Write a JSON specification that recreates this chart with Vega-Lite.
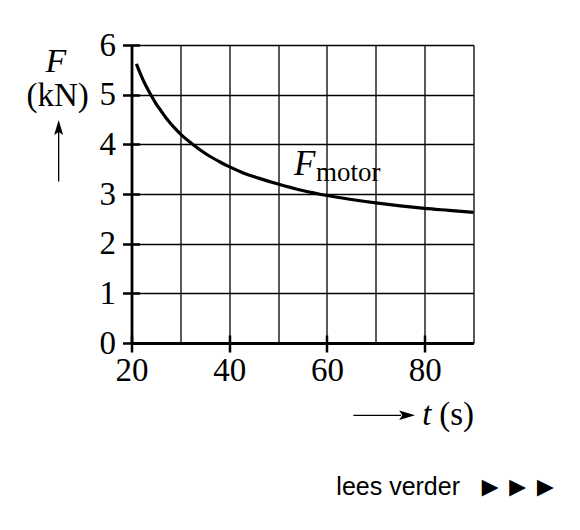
{
  "$schema": "https://vega.github.io/schema/vega-lite/v6.json",
  "width": 342,
  "height": 298,
  "autosize": {"type": "none"},
  "padding": {"left": 131.5, "top": 45, "right": 106.5, "bottom": 187},
  "background": "white",
  "config": {"view": {"stroke": null}, "font": "Liberation Serif"},
  "layer": [
    {
      "data": {"values": [
        {"t": 21, "F": 5.62}, {"t": 22, "F": 5.38}, {"t": 23, "F": 5.17}, {"t": 24, "F": 4.99},
        {"t": 25, "F": 4.82}, {"t": 26, "F": 4.68}, {"t": 27, "F": 4.54}, {"t": 28, "F": 4.42},
        {"t": 29, "F": 4.31}, {"t": 30, "F": 4.21}, {"t": 32, "F": 4.04}, {"t": 34, "F": 3.89},
        {"t": 36, "F": 3.76}, {"t": 38, "F": 3.65}, {"t": 40, "F": 3.55}, {"t": 43, "F": 3.42},
        {"t": 46, "F": 3.32}, {"t": 50, "F": 3.2}, {"t": 55, "F": 3.07}, {"t": 60, "F": 2.97},
        {"t": 65, "F": 2.89}, {"t": 70, "F": 2.82}, {"t": 75, "F": 2.76}, {"t": 80, "F": 2.71},
        {"t": 85, "F": 2.67}, {"t": 90, "F": 2.63}
      ]},
      "mark": {"type": "line", "interpolate": "monotone", "color": "black", "strokeWidth": 3.2},
      "encoding": {
        "x": {"field": "t", "type": "quantitative",
          "scale": {"domain": [20, 90], "nice": false, "zero": false},
          "axis": {"orient": "bottom", "title": null, "values": [20, 30, 40, 50, 60, 70, 80, 90],
            "grid": true, "gridColor": "black", "gridWidth": 1.3, "gridOpacity": 1,
            "domain": true, "domainColor": "black", "domainWidth": 2.8,
            "ticks": true, "tickColor": "black", "tickWidth": 2.5, "tickSize": 9,
            "tickOpacity": {"condition": {"test": "datum.value % 20 === 0", "value": 1}, "value": 0},
            "labelExpr": "datum.value % 20 === 0 ? datum.label : ''",
            "labelFont": "Liberation Serif", "labelFontSize": 33, "labelColor": "black",
            "labelPadding": 2, "labelFlush": false, "labelOverlap": false}},
        "y": {"field": "F", "type": "quantitative",
          "scale": {"domain": [0, 6], "nice": false},
          "axis": {"orient": "left", "title": null, "values": [0, 1, 2, 3, 4, 5, 6],
            "grid": true, "gridColor": "black", "gridWidth": 1.3, "gridOpacity": 1,
            "domain": true, "domainColor": "black", "domainWidth": 2.8,
            "ticks": true, "tickColor": "black", "tickWidth": 2.5, "tickSize": 9,
            "labelFont": "Liberation Serif", "labelFontSize": 33, "labelColor": "black",
            "labelPadding": 7, "labelFlush": false, "labelOverlap": false}}
      }
    },
    {
      "data": {"values": [{}]},
      "mark": {"type": "text", "font": "Liberation Serif", "fontSize": 35, "fontStyle": "italic", "align": "left", "baseline": "alphabetic", "color": "black"},
      "encoding": {
        "x": {"datum": 53.28, "type": "quantitative",
          "axis": {"orient": "bottom", "title": null, "values": [20, 40, 60, 80], "grid": false, "domain": false, "labels": false,
            "ticks": true, "tickColor": "black", "tickWidth": 2.5, "tickSize": -8}},
        "y": {"datum": 3.375, "type": "quantitative",
          "axis": {"orient": "left", "title": null, "values": [0, 1, 2, 3, 4, 5, 6], "grid": false, "domain": false, "labels": false,
            "ticks": true, "tickColor": "black", "tickWidth": 2.5, "tickSize": -8}},
        "text": {"value": "F"}
      }
    },
    {
      "data": {"values": [{}]},
      "mark": {"type": "text", "font": "Liberation Serif", "fontSize": 27, "align": "left", "baseline": "alphabetic", "color": "black"},
      "encoding": {
        "x": {"datum": 57.75, "type": "quantitative", "axis": null},
        "y": {"datum": 3.254, "type": "quantitative", "axis": null},
        "text": {"value": "motor"}
      }
    },
    {
      "data": {"values": [{}]},
      "mark": {"type": "text", "font": "Liberation Serif", "fontSize": 34, "fontStyle": "italic", "align": "center", "baseline": "alphabetic", "color": "black"},
      "encoding": {
        "x": {"datum": 4.54, "type": "quantitative", "axis": null},
        "y": {"datum": 5.463, "type": "quantitative", "axis": null},
        "text": {"value": "F"}
      }
    },
    {
      "data": {"values": [{}]},
      "mark": {"type": "text", "font": "Liberation Serif", "fontSize": 33, "align": "center", "baseline": "alphabetic", "color": "black"},
      "encoding": {
        "x": {"datum": 4.89, "type": "quantitative", "axis": null},
        "y": {"datum": 4.773, "type": "quantitative", "axis": null},
        "text": {"value": "(kN)"}
      }
    },
    {
      "data": {"values": [{}]},
      "mark": {"type": "rule", "color": "black", "strokeWidth": 1.3},
      "encoding": {
        "x": {"datum": 5.09, "type": "quantitative", "axis": null},
        "y": {"datum": 3.25, "type": "quantitative", "axis": null},
        "y2": {"datum": 4.25}
      }
    },
    {
      "data": {"values": [{}]},
      "mark": {"type": "point", "filled": true, "color": "black", "opacity": 1, "size": 900, "shape": "M0,-1L-0.3,0L0,-0.2L0.3,0Z"},
      "encoding": {
        "x": {"datum": 5.09, "type": "quantitative", "axis": null},
        "y": {"datum": 4.19, "type": "quantitative", "axis": null}
      }
    },
    {
      "data": {"values": [{}]},
      "mark": {"type": "rule", "color": "black", "strokeWidth": 1.3},
      "encoding": {
        "x": {"datum": 65.42, "type": "quantitative", "axis": null},
        "x2": {"datum": 75.2},
        "y": {"datum": -1.456, "type": "quantitative", "axis": null}
      }
    },
    {
      "data": {"values": [{}]},
      "mark": {"type": "point", "filled": true, "color": "black", "opacity": 1, "size": 1024, "shape": "M1,0L0,-0.3L0.2,0L0,0.3Z"},
      "encoding": {
        "x": {"datum": 74.78, "type": "quantitative", "axis": null},
        "y": {"datum": -1.456, "type": "quantitative", "axis": null}
      }
    },
    {
      "data": {"values": [{}]},
      "mark": {"type": "text", "font": "Liberation Serif", "fontSize": 33, "fontStyle": "italic", "align": "left", "baseline": "alphabetic", "color": "black"},
      "encoding": {
        "x": {"datum": 79.49, "type": "quantitative", "axis": null},
        "y": {"datum": -1.657, "type": "quantitative", "axis": null},
        "text": {"value": "t"}
      }
    },
    {
      "data": {"values": [{}]},
      "mark": {"type": "text", "font": "Liberation Serif", "fontSize": 33, "align": "left", "baseline": "alphabetic", "color": "black"},
      "encoding": {
        "x": {"datum": 82.97, "type": "quantitative", "axis": null},
        "y": {"datum": -1.657, "type": "quantitative", "axis": null},
        "text": {"value": "(s)"}
      }
    },
    {
      "data": {"values": [{}]},
      "mark": {"type": "text", "font": "Liberation Sans", "fontSize": 25, "align": "center", "baseline": "alphabetic", "color": "black"},
      "encoding": {
        "x": {"datum": 74.58, "type": "quantitative", "axis": null},
        "y": {"datum": -3.06, "type": "quantitative", "axis": null},
        "text": {"value": "lees verder"}
      }
    },
    {
      "data": {"values": [{}]},
      "mark": {"type": "text", "font": "Liberation Sans", "fontSize": 28, "align": "center", "baseline": "alphabetic", "color": "black"},
      "encoding": {
        "x": {"datum": 99.05, "type": "quantitative", "axis": null},
        "y": {"datum": -3.08, "type": "quantitative", "axis": null},
        "text": {"value": "►►►"}
      }
    }
  ],
  "resolve": {"axis": {"x": "independent", "y": "independent"}}
}
